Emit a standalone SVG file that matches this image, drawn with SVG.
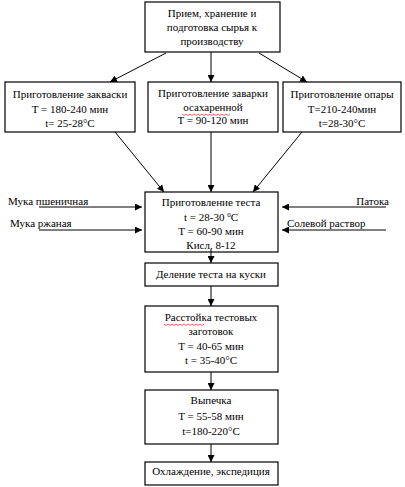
<svg xmlns="http://www.w3.org/2000/svg" width="405" height="487" viewBox="0 0 405 487">
<style>
.box{fill:#fff;stroke:#000;stroke-width:1.2}
text{font-family:"Liberation Serif","Times New Roman",serif;font-size:11px;fill:#000}
.c{text-anchor:middle}
.ln{stroke:#000;stroke-width:1;fill:none}
.sq{stroke:#e02020;stroke-width:0.7;fill:none}
</style>
<defs>
<marker id="ah" viewBox="0 0 10 10" refX="10" refY="5" markerWidth="7" markerHeight="7" markerUnits="userSpaceOnUse" orient="auto">
<path d="M0,0 L10,5 L0,10 z" fill="#000"/>
</marker>
</defs>
<rect width="405" height="487" fill="#fff"/>
<g id="n-raw">
<rect class="box" x="145" y="2" width="135" height="50"/>
<text class="c" x="212" y="17">Прием, хранение и</text>
<text class="c" x="212" y="31">подготовка сырья к</text>
<text class="c" x="212" y="45">производству</text>
</g>
<g id="n-zakvaska">
<rect class="box" x="5" y="82" width="130" height="50"/>
<text class="c" x="70" y="98">Приготовление закваски</text>
<text class="c" x="70" y="113">T = 180-240 мин</text>
<text class="c" x="70" y="127">t= 25-28°C</text>
</g>
<g id="n-zavarka">
<rect class="box" x="148" y="82" width="130" height="50"/>
<text class="c" x="213" y="97">Приготовление заварки</text>
<text class="c" x="213" y="111">осахаренной</text>
<path class="sq" d="M182,114 l2,1.5 l2,-1.5 l2,1.5 l2,-1.5 l2,1.5 l2,-1.5 l2,1.5 l2,-1.5 l2,1.5 l2,-1.5 l2,1.5 l2,-1.5 l2,1.5 l2,-1.5 l2,1.5 l2,-1.5 l2,1.5 l2,-1.5 l2,1.5 l2,-1.5 l2,1.5 l2,-1.5 l2,1.5 l2,-1.5"/>
<text class="c" x="213" y="124">T = 90-120 мин</text>
</g>
<g id="n-opara">
<rect class="box" x="283" y="82" width="118" height="50"/>
<text class="c" x="342" y="98">Приготовление опары</text>
<text class="c" x="342" y="113">T=210-240мин</text>
<text class="c" x="342" y="127">t=28-30°C</text>
</g>
<g id="n-testo">
<rect class="box" x="145" y="192" width="133" height="60"/>
<text class="c" x="211" y="206">Приготовление теста</text>
<text class="c" x="211" y="221">t = 28-30 <tspan font-size="7" dy="-4">0</tspan><tspan dy="4">C</tspan></text>
<text class="c" x="211" y="235">T = 60-90 мин</text>
<text class="c" x="211" y="249">Кисл. 8-12</text>
</g>
<g id="l-muka-psh"><text x="8" y="205">Мука пшеничная</text></g>
<g id="l-muka-rzh"><text x="10" y="227">Мука ржаная</text></g>
<g id="l-patoka"><text x="389" y="205" text-anchor="end">Патока</text></g>
<g id="l-sol"><text x="287" y="227">Солевой раствор</text></g>
<g id="n-delenie">
<rect class="box" x="145" y="263" width="133" height="23"/>
<text class="c" x="211" y="278">Деление теста на куски</text>
</g>
<g id="n-rasstoyka">
<rect class="box" x="145" y="306" width="133" height="66"/>
<text class="c" x="211" y="321">Расстойка тестовых</text>
<path class="sq" d="M164,324 l2,1.5 l2,-1.5 l2,1.5 l2,-1.5 l2,1.5 l2,-1.5 l2,1.5 l2,-1.5 l2,1.5 l2,-1.5 l2,1.5 l2,-1.5 l2,1.5 l2,-1.5 l2,1.5 l2,-1.5 l2,1.5 l2,-1.5 l2,1.5 l2,-1.5"/>
<text class="c" x="211" y="335">заготовок</text>
<text class="c" x="211" y="350">T = 40-65 мин</text>
<text class="c" x="211" y="364">t = 35-40°C</text>
</g>
<g id="n-vypechka">
<rect class="box" x="145" y="390" width="133" height="54"/>
<text class="c" x="211" y="404">Выпечка</text>
<text class="c" x="211" y="420">T = 55-58 мин</text>
<text class="c" x="211" y="435">t=180-220°C</text>
</g>
<g id="n-okhl">
<rect class="box" x="145" y="462" width="133" height="23"/>
<text class="c" x="211" y="475">Охлаждение, экспедиция</text>
</g>
<g id="connectors">
<line class="ln" x1="211" y1="52" x2="211" y2="82" marker-end="url(#ah)"/>
<line class="ln" x1="166" y1="53" x2="110" y2="82" marker-end="url(#ah)"/>
<line class="ln" x1="259" y1="53" x2="307" y2="82" marker-end="url(#ah)"/>
<line class="ln" x1="115" y1="132" x2="164" y2="192" marker-end="url(#ah)"/>
<line class="ln" x1="211" y1="132" x2="211" y2="192" marker-end="url(#ah)"/>
<line class="ln" x1="302" y1="132" x2="253" y2="192" marker-end="url(#ah)"/>
<line class="ln" x1="39" y1="207" x2="142" y2="207" marker-end="url(#ah)"/>
<line class="ln" x1="39" y1="230" x2="142" y2="230" marker-end="url(#ah)"/>
<line class="ln" x1="386" y1="207" x2="282" y2="207" marker-end="url(#ah)"/>
<line class="ln" x1="386" y1="230" x2="282" y2="230" marker-end="url(#ah)"/>
<line class="ln" x1="211" y1="249" x2="211" y2="263" marker-end="url(#ah)"/>
<line class="ln" x1="211" y1="286" x2="211" y2="306" marker-end="url(#ah)"/>
<line class="ln" x1="211" y1="372" x2="211" y2="390" marker-end="url(#ah)"/>
<line class="ln" x1="211" y1="444" x2="211" y2="462" marker-end="url(#ah)"/>
</g>
</svg>
